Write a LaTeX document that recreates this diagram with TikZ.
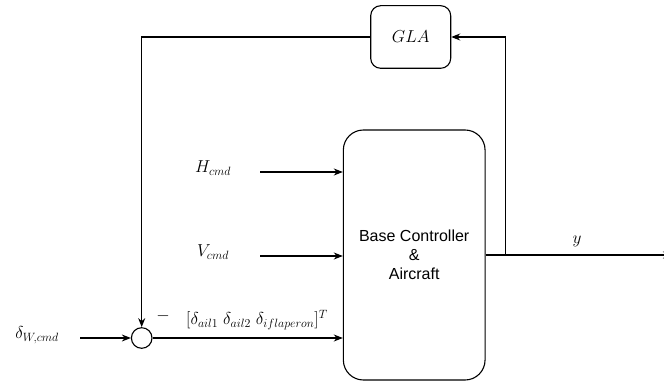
\documentclass[tikz,border=0pt]{standalone}
\usepackage{fontspec}
\newfontfamily\boxfont{Liberation Sans}
\DeclareMathSizes{16}{16}{12.5}{10}
\usetikzlibrary{arrows.meta}
\begin{document}
\begin{tikzpicture}[x=1pt,y=-1pt,
  every node/.style={font=\fontsize{16}{19}\selectfont, inner sep=0pt},
  conn/.style={line width=1.1pt, draw=black},
  arr/.style={conn, -{Stealth[length=9pt,width=7pt]}},
  block/.style={draw, line width=1.1pt, rounded corners=#1},
  lbl/.style={}]
\useasboundingbox (0,0) rectangle (664,382);
\node[block=20pt, minimum width=141.7pt, minimum height=250pt, align=center, font=\boxfont\fontsize{16}{19}\selectfont] (main) at (414.2,255) {Base Controller\\\&\\Aircraft};
\node[block=10pt, minimum width=80pt, minimum height=62.6pt] (gla) at (410.7,37) {$GLA$};
\node[draw, circle, line width=1.1pt, minimum size=20.6pt] (sum) at (141.7,338) {};
\node[lbl] (hl) at (213,168) {$H_{cmd}$};
\node[lbl] (vl) at (213,252) {$V_{cmd}$};
\node[lbl] (dl) at (37,335) {$\delta_{W,cmd}$};
\node[lbl] (minus) at (163,316) {$-$};
\node[lbl] (vec) at (257,320) {$[\delta_{ail1}\ \delta_{ail2}\ \delta_{iflaperon}]^T$};
\node[lbl] (yl) at (577,241) {$y$};
\coordinate (hin) at (260,172);
\coordinate (vin) at (260,256);
\coordinate (din) at (80,338);
\coordinate (fb) at (505.7,255);
\coordinate (yout) at (672,255);
\draw[arr] (hin) -- (hin -| main.west);
\draw[arr] (vin) -- (vin -| main.west);
\draw[arr] (din) -- (sum.west);
\draw[arr] (sum.east) -- (sum.east -| main.west);
\draw[arr] (main.east) -- (yout);
\draw[arr] (fb) |- (gla.east);
\draw[arr] (gla.west) -| (sum.north);
\end{tikzpicture}
\end{document}
